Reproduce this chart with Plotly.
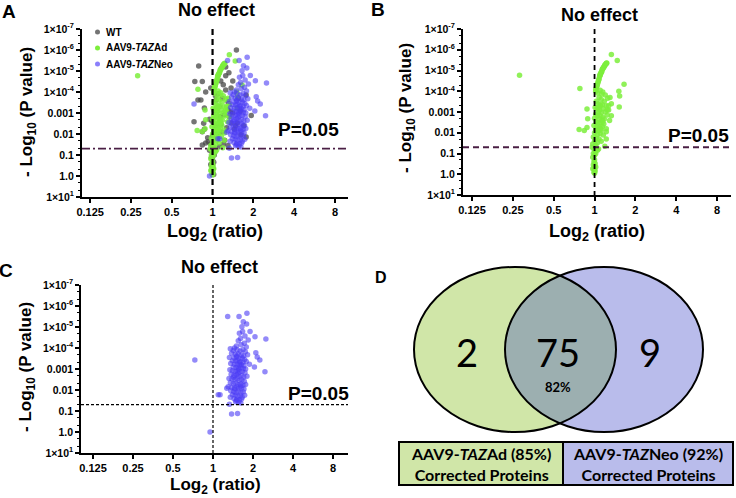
import numpy as np
import plotly.graph_objects as go

W, H = 736, 498

# ---------------- tick labels ----------------
x_tick_vals = [0.125, 0.25, 0.5, 1, 2, 4, 8]
x_tick_text = ["0.125", "0.25", "0.5", "1", "2", "4", "8"]
y_tick_vals = [1e-7, 1e-6, 1e-5, 1e-4, 1e-3, 1e-2, 1e-1, 1, 10]
y_tick_text = ["1×10<sup>-7</sup>", "1×10<sup>-6</sup>", "1×10<sup>-5</sup>", "1×10<sup>-4</sup>",
               "0.001", "0.01", "0.1", "1.0", "1×10<sup>1</sup>"]

p_threshold = 0.05
no_effect_ratio = 1.0

# ---------------- series: WT ----------------
wt_ratio = [1.50, 0.79, 1.25, 1.41, 1.25, 1.37, 0.97, 0.74, 0.84, 1.15, 1.32, 1.20,
            0.89, 0.78, 0.82, 1.77, 1.05, 1.18, 1.30, 1.41, 1.30, 0.87, 0.73, 0.86, 0.87, 0.84,
            1.93, 1.09, 1.23, 1.37, 1.77, 1.12, 1.22, 1.03, 0.95, 1.15, 1.27, 1.05, 1.17, 1.00,
            1.08, 0.89, 0.84, 0.93, 1.13, 1.33, 1.45, 1.55, 1.60, 1.48, 1.62, 1.70, 1.25, 1.10,
            0.97, 1.02, 0.95, 1.00, 1.03, 0.98, 1.00, 1.02, 0.97, 1.00, 1.01, 0.99, 1.00, 1.02,
            1.12, 1.20, 1.30, 1.06, 1.14, 0.92, 1.35, 1.52, 1.08, 0.99]
wt_p = [1.0e-6, 5.8e-6, 6.5e-6, 3.0e-5, 1.7e-5, 6.5e-5, 6.5e-5, 3.2e-5, 3.2e-5, 3.0e-5, 1.2e-5, 4.5e-5,
        1.0e-4, 2.4e-4, 2.4e-4, 1.4e-4, 1.5e-4, 2.0e-4, 3.0e-4, 1.0e-3, 7.0e-4, 5.8e-4, 2.6e-3, 3.1e-3, 6.0e-3, 7.9e-3,
        1.3e-3, 9.0e-3, 2.0e-2, 3.0e-3, 1.4e-2, 5.0e-4, 1.2e-3, 8.0e-4, 2.0e-3, 3.5e-3, 5.0e-3, 4.0e-3, 8.0e-3, 1.2e-2,
        1.6e-2, 2.7e-2, 3.3e-2, 2.3e-2, 2.5e-3, 1.5e-3, 6.0e-3, 2.0e-4, 8.0e-4, 4.0e-3, 1.1e-2, 4.0e-3, 8.0e-5, 1.2e-4,
        3.0e-2, 4.5e-2, 6.0e-2, 8.0e-2, 0.10, 0.13, 0.17, 0.22, 0.28, 0.35, 0.45, 0.55, 0.70, 0.85,
        4.0e-2, 3.0e-2, 3.5e-2, 2.5e-4, 1.5e-3, 1.5e-2, 9.0e-4, 3.0e-3, 6.0e-4, 2.5e-3]

# ---------------- series: AAV9-TAZAd ----------------
ad_ratio = [0.28, 1.33, 1.47, 1.65, 1.51, 1.53, 1.52, 0.78, 0.88, 0.89, 0.77, 0.84, 0.88, 1.33, 1.29, 1.22, 1.22, 1.22,
            1.02, 1.03, 1.035, 1.04, 1.045, 1.05, 1.06, 1.066, 1.075, 1.08, 1.09, 1.095, 1.10, 1.105, 1.116, 1.125,
            1.13, 1.14, 1.145, 1.155, 1.165, 1.17, 1.185, 1.19, 1.20, 1.215, 1.225, 1.23,
            1.02, 1.05, 1.10, 1.15, 1.20, 1.08, 1.12, 1.03, 1.18, 1.25, 1.06, 1.10, 1.14, 1.22, 1.01, 1.04,
            1.09, 1.16, 1.27, 1.07, 1.12, 1.20, 1.02, 1.05, 1.10, 1.15, 1.24, 1.00, 1.08, 1.13, 1.18, 1.03,
            1.06, 1.11, 1.17, 0.99, 1.04, 1.09, 1.14, 1.02, 1.07, 1.12, 1.00, 1.05, 1.10, 1.16, 0.98, 1.03,
            1.08, 1.00, 1.05, 1.12, 0.97, 1.02, 1.19, 1.10, 1.13, 1.07, 1.11, 1.15, 1.30, 1.33, 1.27, 1.24,
            0.99, 1.01, 0.98, 1.00, 1.02, 0.97, 1.00, 0.99, 1.01, 0.98, 1.00, 1.02, 0.99, 0.97, 1.00, 1.01,
            0.99, 1.00, 1.05, 0.96, 1.07, 1.03]
ad_p = [1.7e-5, 1.7e-6, 3.3e-6, 4.6e-5, 1.0e-4, 1.7e-4, 5.7e-4, 7.4e-5, 7.2e-4, 2.1e-3, 6.9e-3, 7.7e-3, 5.6e-3, 1.5e-3, 2.6e-3, 6.5e-3, 9.0e-3, 2.0e-2,
        8.0e-5, 7.0e-5, 6.2e-5, 5.6e-5, 5.0e-5, 4.5e-5, 3.8e-5, 3.2e-5, 2.8e-5, 2.5e-5, 1.9e-5, 1.75e-5, 1.6e-5, 1.45e-5, 1.3e-5, 1.2e-5,
        1.1e-5, 8.9e-6, 8.4e-6, 7.8e-6, 7.2e-6, 6.8e-6, 6.0e-6, 5.6e-6, 5.1e-6, 4.7e-6, 4.5e-6, 4.3e-6,
        1.0e-4, 1.2e-4, 9.0e-5, 1.1e-4, 1.5e-4, 2.0e-4, 2.5e-4, 3.0e-4, 3.0e-4, 2.2e-4, 4.0e-4, 5.0e-4, 4.5e-4, 5.0e-4, 6.0e-4, 7.0e-4,
        8.0e-4, 7.0e-4, 8.0e-4, 1.0e-3, 1.1e-3, 1.0e-3, 1.3e-3, 1.6e-3, 1.5e-3, 1.8e-3, 1.4e-3, 2.0e-3, 2.2e-3, 2.5e-3, 2.2e-3, 3.0e-3,
        3.5e-3, 3.2e-3, 3.8e-3, 4.5e-3, 5.0e-3, 5.5e-3, 5.0e-3, 7.0e-3, 8.0e-3, 7.5e-3, 1.0e-2, 1.2e-2, 1.1e-2, 1.3e-2, 1.6e-2, 1.8e-2,
        2.0e-2, 2.5e-2, 3.0e-2, 2.6e-2, 3.5e-2, 4.0e-2, 4.5e-2, 4.5e-4, 1.4e-4, 6.0e-4, 6.5e-3, 2.9e-3, 2.0e-4, 4.0e-4, 5.0e-4, 8.0e-4,
        0.06, 0.08, 0.10, 0.12, 0.10, 0.15, 0.20, 0.25, 0.30, 0.35, 0.40, 0.45, 0.50, 0.55, 0.60, 0.70,
        0.80, 0.90, 0.07, 0.05, 0.06, 0.055]

# ---------------- series: AAV9-TAZNeo ----------------
neo_ratio = [1.80, 1.57, 1.29, 0.73, 2.50, 2.46, 2.07, 2.10, 2.15, 2.25, 2.05, 1.38, 1.53, 1.62, 1.33, 1.095, 1.13, 1.27, 0.95,
             1.69, 1.65, 1.79, 1.67, 1.90, 1.58, 1.74, 1.61, 1.84, 1.55, 1.72, 1.63, 1.50, 1.78, 1.45,
             1.35, 1.42, 1.52, 1.60, 1.68, 1.75, 1.38, 1.47, 1.55, 1.63, 1.70, 1.82, 1.33, 1.44, 1.50, 1.57,
             1.66, 1.73, 1.40, 1.48, 1.53, 1.60, 1.68, 1.78, 1.36, 1.45, 1.52, 1.58, 1.64, 1.71, 1.88, 1.42,
             1.49, 1.55, 1.62, 1.69, 1.76,
             1.34, 1.40, 1.47, 1.53, 1.59, 1.66, 1.74, 1.37, 1.44, 1.50, 1.56, 1.63, 1.70, 1.80, 1.32, 1.39,
             1.46, 1.52, 1.58, 1.65, 1.72, 1.35, 1.42, 1.48, 1.54, 1.61, 1.68, 1.76, 1.30, 1.38, 1.45, 1.51,
             1.57, 1.64, 1.71, 1.36, 1.43, 1.49, 1.55, 1.62, 1.69, 1.40, 1.47, 1.53, 1.60, 1.66, 1.44, 1.51,
             1.58, 1.64, 1.48, 1.56, 1.35, 1.73, 1.51, 1.54, 1.46, 1.59, 1.50, 1.56, 1.43, 1.61]
neo_p = [2.2e-6, 3.2e-6, 3.2e-6, 3.7e-4, 3.7e-5, 1.35e-3, 2.9e-5, 1.7e-4, 2.7e-4, 3.7e-4, 8.0e-4, 0.14, 0.13, 0.042, 0.048, 0.017, 0.017, 8.3e-3, 1.0,
         5.6e-6, 9.8e-6, 7.2e-6, 1.66e-5, 1.66e-5, 2.0e-5, 2.7e-5, 3.5e-5, 4.2e-5, 4.5e-5, 6.0e-5, 7.0e-5, 8.0e-5, 9.0e-5, 1.0e-4,
         1.1e-4, 1.3e-4, 1.2e-4, 1.4e-4, 1.2e-4, 1.5e-4, 1.8e-4, 2.0e-4, 1.9e-4, 2.2e-4, 2.4e-4, 2.1e-4, 2.8e-4, 3.0e-4, 2.7e-4, 3.2e-4,
         3.0e-4, 3.5e-4, 4.0e-4, 4.2e-4, 3.8e-4, 4.5e-4, 4.8e-4, 4.4e-4, 5.5e-4, 6.0e-4, 5.8e-4, 6.5e-4, 6.2e-4, 7.0e-4, 6.0e-4, 8.0e-4,
         8.5e-4, 9.0e-4, 8.2e-4, 9.5e-4, 1.0e-3,
         1.1e-3, 1.2e-3, 1.3e-3, 1.2e-3, 1.4e-3, 1.3e-3, 1.5e-3, 1.8e-3, 2.0e-3, 1.9e-3, 2.2e-3, 2.1e-3, 2.4e-3, 2.2e-3, 2.8e-3, 3.0e-3,
         3.2e-3, 2.9e-3, 3.5e-3, 3.3e-3, 3.8e-3, 4.5e-3, 5.0e-3, 4.8e-3, 5.5e-3, 5.2e-3, 6.0e-3, 5.5e-3, 7.0e-3, 7.5e-3, 8.0e-3, 7.2e-3,
         8.5e-3, 8.0e-3, 9.0e-3, 1.1e-2, 1.2e-2, 1.3e-2, 1.15e-2, 1.4e-2, 1.25e-2, 1.7e-2, 1.8e-2, 2.0e-2, 1.9e-2, 2.2e-2, 2.6e-2, 2.8e-2,
         3.0e-2, 2.7e-2, 3.6e-2, 3.8e-2, 2.2e-2, 1.8e-2, 2.4e-4, 1.6e-3, 9.0e-3, 5.0e-4, 3.2e-2, 1.0e-3, 2.4e-3, 6.5e-3]

# ---------------- Venn (panel D) ----------------
venn_counts = {"ad_only": "2", "both": "75", "neo_only": "9"}
venn_both_pct = "82%"
box_labels = ["AAV9-<i>TAZ</i>Ad (85%)<br>Corrected Proteins",
              "AAV9-<i>TAZ</i>Neo (92%)<br>Corrected Proteins"]

# ---------------- styles ----------------
C_WT = "rgba(70,70,70,0.75)"
C_AD = "rgba(125,238,60,0.85)"
C_NEO = "rgba(75,60,245,0.6)"
VENN_GREEN = "#D0E6A8"
VENN_BLUE = "#B9BCEB"
VENN_MID = "#9CAFB0"
PURPLE = "#4a1f44"
AX_FONT = "Liberation Sans, Arial, sans-serif"
VENN_FONT = "Lato, Open Sans, sans-serif"


def px_x(px):
    return px / W


def px_y(py):
    return 1 - py / H


fig = go.Figure()

# panel geometry (pixels) and log2 range
panels = {
    "1": dict(x0=82, x1=348, y0=29, y1=197, lo=-3.2, hi=3.32),
    "2": dict(x0=463, x1=731, y0=29, y1=195, lo=-3.22, hi=3.34),
    "3": dict(x0=81, x1=348, y0=285, y1=453, lo=-3.3, hi=3.375),
}

for k, g in panels.items():
    xa = "xaxis" if k == "1" else "xaxis" + k
    ya = "yaxis" if k == "1" else "yaxis" + k
    axw = 2 if k != "3" else 1.5
    fig.layout[xa] = dict(
        type="log", domain=[px_x(g["x0"]), px_x(g["x1"])],
        range=[g["lo"] * np.log10(2), g["hi"] * np.log10(2)], automargin=False,
        tickvals=x_tick_vals, ticktext=x_tick_text, ticks="outside", ticklen=4,
        tickwidth=1.5, tickcolor="black", showline=True, linecolor="black", linewidth=axw,
        showgrid=False, zeroline=False, anchor="y" if k == "1" else "y" + k,
        tickfont=dict(family=AX_FONT, size=11, color="black", weight="bold"),
    )
    fig.layout[ya] = dict(
        type="log", domain=[px_y(g["y1"]), px_y(g["y0"])],
        range=[1, -7], automargin=False,
        tickvals=y_tick_vals, ticktext=y_tick_text, ticks="outside", ticklen=4,
        tickwidth=1.5, tickcolor="black", showline=True, linecolor="black", linewidth=axw,
        showgrid=False, zeroline=False, anchor="x" if k == "1" else "x" + k,
        minor=dict(ticks="outside", ticklen=2, tickcolor="black", tickwidth=1, showgrid=False),
        tickfont=dict(family=AX_FONT, size=10.5, color="black", weight="bold"),
    )


def scatter(xs, ys, color, k):
    return go.Scatter(x=xs, y=ys, mode="markers", showlegend=False,
                      marker=dict(size=5.5, color=color, line=dict(width=0)),
                      xaxis="x" if k == "1" else "x" + k, yaxis="y" if k == "1" else "y" + k)


def ref_lines(k, hcolor, hdash, hwidth, vdash, vwidth):
    g = panels[k]
    xa = "x" if k == "1" else "x" + k
    ya = "y" if k == "1" else "y" + k
    fig.add_trace(go.Scatter(x=[2 ** g["lo"], 2 ** g["hi"]], y=[p_threshold, p_threshold], mode="lines",
                             line=dict(color=hcolor, dash=hdash, width=hwidth), showlegend=False,
                             hoverinfo="skip", xaxis=xa, yaxis=ya))
    fig.add_trace(go.Scatter(x=[no_effect_ratio, no_effect_ratio], y=[1e-7, 10], mode="lines",
                             line=dict(color="black", dash=vdash, width=vwidth), showlegend=False,
                             hoverinfo="skip", xaxis=xa, yaxis=ya))


# Panel A
fig.add_trace(scatter(wt_ratio, wt_p, C_WT, "1"))
fig.add_trace(scatter(ad_ratio, ad_p, C_AD, "1"))
fig.add_trace(scatter(neo_ratio, neo_p, C_NEO, "1"))
ref_lines("1", PURPLE, "8px,3px,2px,3px", 1.8, "6px,4px", 2.2)
# Panel B
fig.add_trace(scatter(ad_ratio, ad_p, C_AD, "2"))
ref_lines("2", PURPLE, "6px,4px", 1.8, "5px,4px", 1.8)
# Panel C
fig.add_trace(scatter(neo_ratio, neo_p, C_NEO, "3"))
ref_lines("3", "black", "3px,2px", 1.2, "3px,2px", 1.2)

# Venn axes (pixel-like coordinates)
fig.layout["xaxis4"] = dict(domain=[px_x(370), 1], range=[370, 736], visible=False, anchor="y4", fixedrange=True)
fig.layout["yaxis4"] = dict(domain=[0, px_y(250)], range=[498, 250], visible=False, anchor="x4", fixedrange=True)
fig.add_trace(go.Scatter(x=[], y=[], xaxis="x4", yaxis="y4", showlegend=False))

cy, ry = 349.5, 82.5
cxL, rxL = 515.0, 101.0
cxR, rxR = 604.0, 99.0
shapes = []
shapes.append(dict(type="circle", xref="x4", yref="y4", x0=cxL - rxL, x1=cxL + rxL, y0=cy - ry, y1=cy + ry,
                   fillcolor=VENN_GREEN, line=dict(width=0), layer="below"))
shapes.append(dict(type="circle", xref="x4", yref="y4", x0=cxR - rxR, x1=cxR + rxR, y0=cy - ry, y1=cy + ry,
                   fillcolor=VENN_BLUE, line=dict(width=0), layer="below"))
s0 = (cxR - cxL) / (rxL + rxR)
t0 = np.sqrt(1 - s0 ** 2)
ts = np.linspace(-t0, t0, 60)
right_arc = [(cxL + rxL * np.sqrt(1 - t ** 2), cy + ry * t) for t in ts]
left_arc = [(cxR - rxR * np.sqrt(1 - t ** 2), cy + ry * t) for t in ts[::-1]]
pts = right_arc + left_arc
path = "M " + " L ".join(f"{x:.2f},{y:.2f}" for x, y in pts) + " Z"
shapes.append(dict(type="path", xref="x4", yref="y4", path=path, fillcolor=VENN_MID, line=dict(width=0), layer="below"))
for cx, rx in [(cxL, rxL), (cxR, rxR)]:
    shapes.append(dict(type="circle", xref="x4", yref="y4", x0=cx - rx, x1=cx + rx, y0=cy - ry, y1=cy + ry,
                       line=dict(color="black", width=2), fillcolor="rgba(0,0,0,0)"))
shapes.append(dict(type="rect", xref="x4", yref="y4", x0=399, x1=563, y0=442, y1=485,
                   fillcolor=VENN_GREEN, line=dict(color="black", width=2)))
shapes.append(dict(type="rect", xref="x4", yref="y4", x0=563, x1=733, y0=442, y1=485,
                   fillcolor=VENN_BLUE, line=dict(color="black", width=2)))

# legend markers (panel A)
legend_items = [("WT", C_WT, 32), ("AAV9-<i>TAZ</i>Ad", "rgb(125,238,60)", 48), ("AAV9-<i>TAZ</i>Neo", "rgba(110,95,250,0.8)", 64)]
for _, col, yy in legend_items:
    shapes.append(dict(type="circle", xref="paper", yref="paper",
                       x0=px_x(95), x1=px_x(100), y0=px_y(yy + 2.5), y1=px_y(yy - 2.5),
                       fillcolor=col, line=dict(width=0)))
fig.update_layout(shapes=shapes)

ann = []


def A(text, x, y, size, family=AX_FONT, bold=True, angle=0, xanchor="center", yanchor="middle"):
    ann.append(dict(text=text, x=px_x(x), y=px_y(y), xref="paper", yref="paper", showarrow=False,
                    xanchor=xanchor, yanchor=yanchor, textangle=angle,
                    font=dict(family=family, size=size, color="black", weight="bold" if bold else "normal")))


# panel letters
A("A", 9, 11, 19)
A("B", 378, 9, 19)
A("C", 6, 270, 19)
A("D", 381, 277, 16)
# titles
A("No effect", 216, 10, 18)
A("No effect", 599, 15, 18)
A("No effect", 219, 267, 18)
# P=0.05
A("P=0.05", 308, 129, 19)
A("P=0.05", 698, 135, 19)
A("P=0.05", 318, 393, 19)
# axis titles
ytitle = "- Log<sub>10</sub> (P value)"
xtitle = "Log<sub>2</sub> (ratio)"
A(ytitle, 28, 112, 17, angle=-90)
A(ytitle, 407, 108, 17, angle=-90)
A(ytitle, 27, 367, 17, angle=-90)
A(xtitle, 215, 232, 18)
A(xtitle, 597, 232, 18)
A(xtitle, 215, 486, 17)
# legend texts
for txt, _, yy in legend_items:
    A(txt, 104, yy, 10, xanchor="left")
# Venn numbers
A(venn_counts["ad_only"], 467, 352, 38, family=VENN_FONT, bold=False)
A(venn_counts["both"], 558, 352, 38, family=VENN_FONT, bold=False)
A(venn_counts["neo_only"], 650, 352, 38, family=VENN_FONT, bold=False)
A(venn_both_pct, 558, 387, 13, family=VENN_FONT)
A(box_labels[0], 481, 464, 16, family=VENN_FONT)
A(box_labels[1], 648, 464, 16, family=VENN_FONT)

fig.update_layout(annotations=ann, width=W, height=H, margin=dict(l=0, r=0, t=0, b=0),
                  paper_bgcolor="white", plot_bgcolor="white", showlegend=False)

# remove the browser's default 8px page margin so the 736x498 figure fills the window exactly
fig.write_html("out.html", config={"displayModeBar": False},
               post_script="document.body.style.margin='0px';document.body.style.overflow='hidden';")
